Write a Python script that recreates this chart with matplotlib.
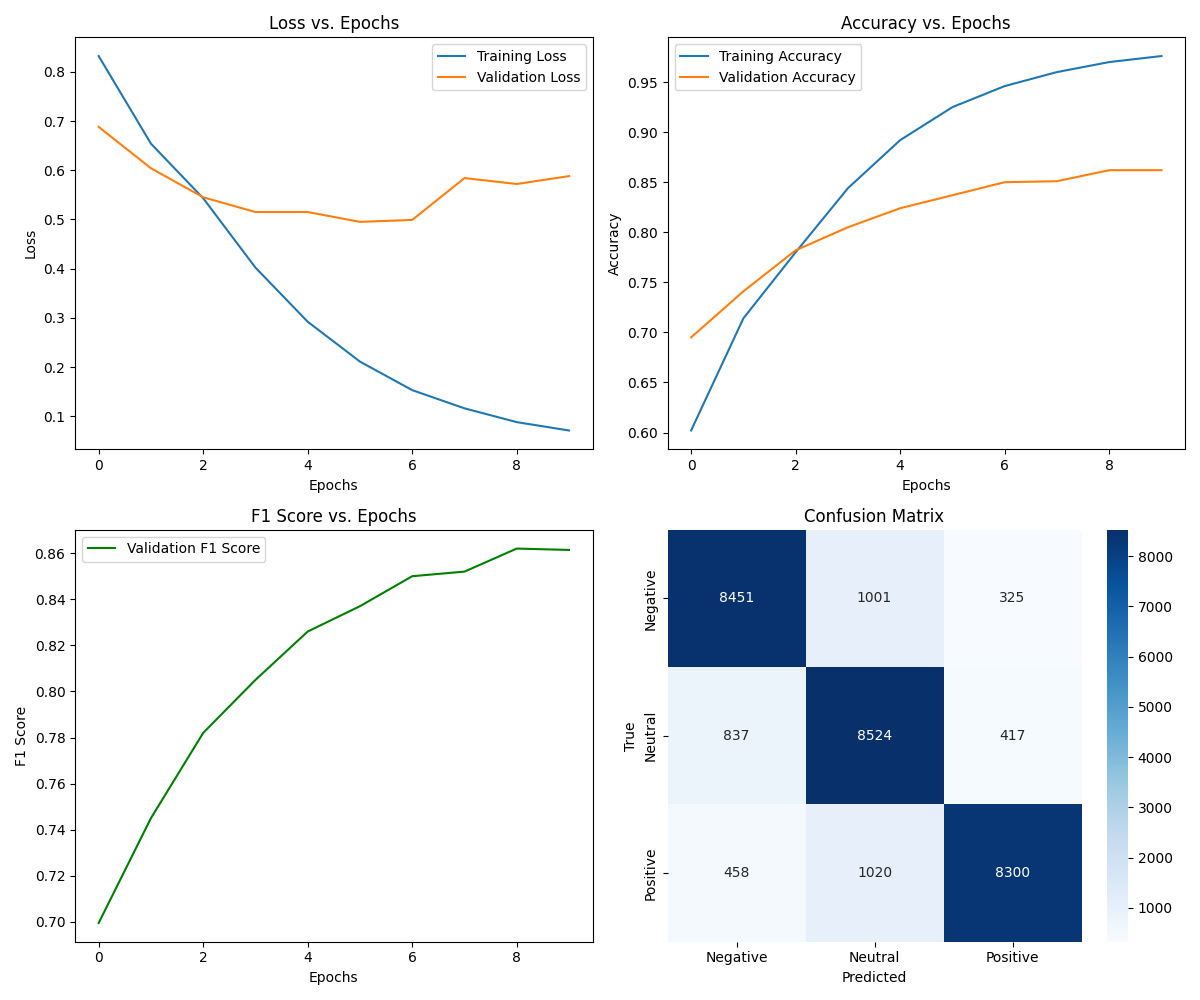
import matplotlib
matplotlib.use("Agg")
import matplotlib.pyplot as plt
import numpy as np
import seaborn as sns

epochs = np.arange(10)

train_loss = [0.832, 0.654, 0.543, 0.402, 0.292, 0.211, 0.153, 0.116, 0.088, 0.071]
val_loss = [0.688, 0.604, 0.545, 0.515, 0.515, 0.495, 0.499, 0.584, 0.572, 0.588]

train_acc = [0.602, 0.714, 0.780, 0.844, 0.892, 0.925, 0.946, 0.960, 0.970, 0.976]
val_acc = [0.695, 0.741, 0.782, 0.805, 0.824, 0.837, 0.850, 0.851, 0.862, 0.862]

val_f1 = [0.6995, 0.745, 0.782, 0.805, 0.826, 0.837, 0.850, 0.852, 0.862, 0.8614]

classes = ["Negative", "Neutral", "Positive"]
conf_mat = np.array([[8451, 1001, 325],
                     [837, 8524, 417],
                     [458, 1020, 8300]])

fig, axes = plt.subplots(2, 2, figsize=(12, 10))

# loss
ax = axes[0, 0]
ax.plot(epochs, train_loss, label="Training Loss")
ax.plot(epochs, val_loss, label="Validation Loss")
ax.set_title("Loss vs. Epochs")
ax.set_xlabel("Epochs")
ax.set_ylabel("Loss")
ax.legend()

# accuracy
ax = axes[0, 1]
ax.plot(epochs, train_acc, label="Training Accuracy")
ax.plot(epochs, val_acc, label="Validation Accuracy")
ax.set_title("Accuracy vs. Epochs")
ax.set_xlabel("Epochs")
ax.set_ylabel("Accuracy")
ax.legend()

# f1
ax = axes[1, 0]
ax.plot(epochs, val_f1, color="green", label="Validation F1 Score")
ax.set_title("F1 Score vs. Epochs")
ax.set_xlabel("Epochs")
ax.set_ylabel("F1 Score")
ax.legend()

# confusion matrix
ax = axes[1, 1]
sns.heatmap(conf_mat, annot=True, fmt="d", cmap="Blues",
            xticklabels=classes, yticklabels=classes, ax=ax)
ax.set_title("Confusion Matrix")
ax.set_xlabel("Predicted")
ax.set_ylabel("True")

plt.tight_layout()
fig.savefig("out.png", dpi=100)
